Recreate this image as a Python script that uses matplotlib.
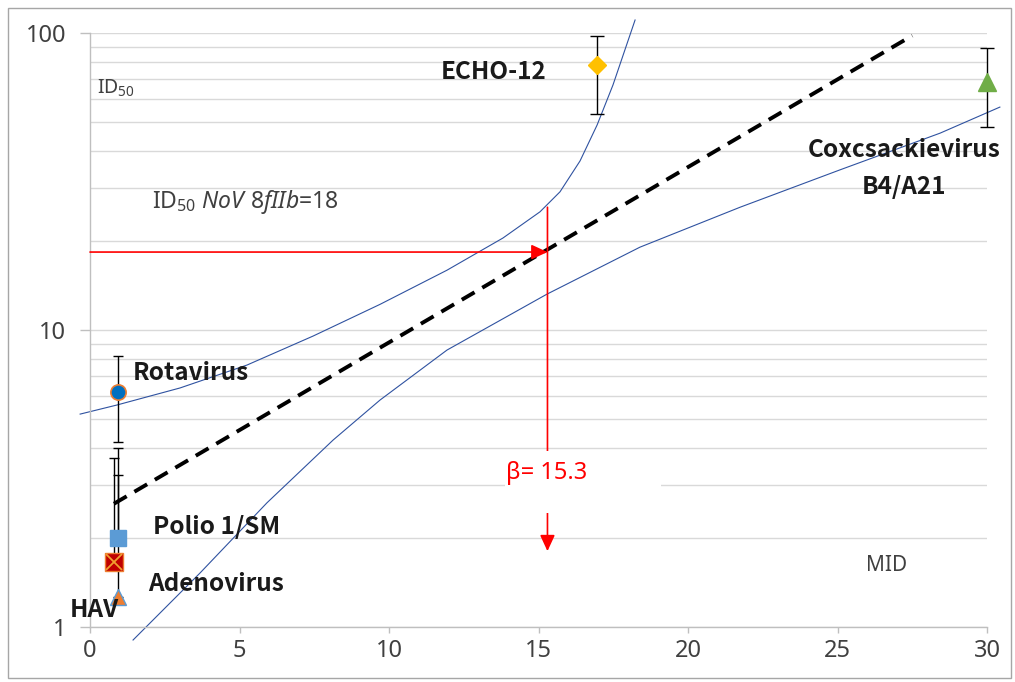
import matplotlib
matplotlib.use('Agg')
import matplotlib.pyplot as plt
from matplotlib.patches import Rectangle
from matplotlib.ticker import LogLocator, NullFormatter

# ---------------------------------------------------------------
# data
# ---------------------------------------------------------------
virus_names = ['Rotavirus', 'Polio 1/SM', 'Adenovirus', 'HAV', 'ECHO-12', 'Coxcsackievirus']
virus_beta  = [0.94, 0.94, 0.80, 0.94, 16.95, 30.0]
virus_id50  = [6.2, 2.0, 1.66, 1.26, 78.0, 68.6]
err_upper   = [8.2, 4.0, 3.7, 3.25, 97.7, 88.8]
err_lower   = [4.2, 2.0, 1.66, 1.26, 53.4, 48.1]

fit_x = [0.8, 27.5]
fit_y = [2.6, 98.0]

upper_x = [-0.33, 0.90, 3.01, 5.25, 7.46, 9.70, 11.94, 13.81, 15.05, 15.72, 16.39, 16.96, 17.49, 18.23]
upper_y = [5.21, 5.59, 6.38, 7.62, 9.54, 12.2, 15.9, 20.4, 25.0, 29.2, 37.1, 49.0, 66.8, 110.6]
lower_x = [1.44, 3.68, 5.92, 8.13, 9.70, 11.94, 14.15, 15.28, 18.39, 21.74, 25.08, 28.43, 30.43]
lower_y = [0.904, 1.52, 2.62, 4.26, 5.81, 8.56, 11.4, 13.2, 19.0, 25.9, 34.6, 46.0, 56.3]

nov_beta = 15.3
nov_id50 = 18.3
nov_top = 25.9      # where the upper band crosses beta
nov_bottom = 1.8

x_ticks = [0, 5, 10, 15, 20, 25, 30]
y_ticks = [1, 10, 100]
y_tick_labels = ['1', '10', '100']

# ---------------------------------------------------------------
# styles
# ---------------------------------------------------------------
plt.rcParams['font.family'] = ['Noto Sans', 'DejaVu Sans']
plt.rcParams['mathtext.fontset'] = 'custom'
plt.rcParams['mathtext.rm'] = 'Noto Sans'
plt.rcParams['mathtext.it'] = 'Noto Sans:italic'

GRID = '#D9D9D9'
AXIS = '#BFBFBF'
TXT = '#404040'
BAND = '#2F52A0'
RED = '#FF0000'
BOLD_FONT = ['Noto Sans CJK SC', 'DejaVu Sans']

marker_styles = [
    dict(marker='o', ms=11, mfc='#0070C0', mec='#ED7D31', mew=1.2),
    dict(marker='s', ms=12, mfc='#5B9BD5', mec='#5B9BD5', mew=1),
    dict(marker='s', ms=13, mfc='#C00000', mec='#ED7D31', mew=1),
    dict(marker='^', ms=11, mfc='#ED7D31', mec='#5B9BD5', mew=1),
    dict(marker='D', ms=9, mfc='#FFC000', mec='#FFC000', mew=1),
    dict(marker='^', ms=13.5, mfc='#70AD47', mec='#70AD47', mew=1),
]
cap_sizes = [3.6, 3.6, 3.6, 3.6, 5.3, 5.3]

# ---------------------------------------------------------------
# figure
# ---------------------------------------------------------------
fig = plt.figure(figsize=(10.15, 6.82), dpi=100)
fig.patches.append(Rectangle((8 / 1015, 4 / 682), 1003 / 1015, 670 / 682,
                             transform=fig.transFigure, fill=False,
                             edgecolor='#A6A6A6', linewidth=1))

ax = fig.add_axes([90 / 1015, 1 - 627 / 682, (987 - 90) / 1015, (627 - 33) / 682])
ax.set_yscale('log')
ax.set_xlim(0, 30)
ax.set_ylim(1, 100)

ax.set_xticks(x_ticks)
ax.set_yticks(y_ticks)
ax.set_yticklabels(y_tick_labels)
ax.yaxis.set_minor_locator(LogLocator(base=10, subs=range(2, 10)))
ax.yaxis.set_minor_formatter(NullFormatter())
ax.tick_params(axis='y', which='minor', length=0)
ax.tick_params(axis='y', which='major', length=7, width=1, color=AXIS,
               labelsize=17, labelcolor=TXT, pad=10)
ax.tick_params(axis='x', which='major', length=4.5, width=1, color=AXIS,
               labelsize=17, labelcolor=TXT, pad=4)
ax.grid(True, axis='y', which='both', color=GRID, linewidth=1)
ax.set_axisbelow(True)
for s in ['top', 'right']:
    ax.spines[s].set_visible(False)
for s in ['left', 'bottom']:
    ax.spines[s].set_color(AXIS)
    ax.spines[s].set_linewidth(1)

# confidence band and fitted line
ax.plot(upper_x, upper_y, color=BAND, lw=0.8, clip_on=False, zorder=2)
ax.plot(lower_x, lower_y, color=BAND, lw=0.8, clip_on=False, zorder=2)
fit, = ax.plot(fit_x, fit_y, color='black', lw=2.8, zorder=3)
fit.set_dashes((3.8, 2.3))

# error bars + markers
for i in range(len(virus_names)):
    eb = ax.errorbar([virus_beta[i]], [virus_id50[i]],
                     yerr=[[virus_id50[i] - err_lower[i]], [err_upper[i] - virus_id50[i]]],
                     fmt='none', ecolor='black', elinewidth=1, capsize=cap_sizes[i],
                     capthick=1, zorder=4)
    for art in list(eb.lines[1]) + list(eb.lines[2]):
        art.set_clip_on(False)
for i in range(len(virus_names)):
    ax.plot([virus_beta[i]], [virus_id50[i]], linestyle='none', zorder=5,
            clip_on=False, **marker_styles[i])
# the orange cross inside the adenovirus box
ax.plot([virus_beta[2]], [virus_id50[2]], linestyle='none', marker='x', ms=11,
        mec='#F0A030', mew=1.3, zorder=6)

# NoV arrows
ax.annotate('', xy=(nov_beta, nov_id50), xytext=(0, nov_id50),
            arrowprops=dict(arrowstyle='-|>,head_length=0.65,head_width=0.3',
                            color=RED, lw=1.2, mutation_scale=15,
                            shrinkA=0, shrinkB=0), zorder=6)
ax.annotate('', xy=(nov_beta, nov_bottom), xytext=(nov_beta, nov_top),
            arrowprops=dict(arrowstyle='-|>,head_length=0.65,head_width=0.3',
                            color=RED, lw=1.2, mutation_scale=15,
                            shrinkA=0, shrinkB=0), zorder=6)
ax.add_patch(Rectangle((13.88, 2.42), 5.22, 3.91 - 2.42, facecolor='white',
                       edgecolor='none', zorder=7))
ax.text(13.9, 3.15, 'β= 15.3', color=RED, fontsize=17,
        ha='left', va='baseline', zorder=8)

# labels
bold = dict(fontsize=17.5, fontweight='bold', family=BOLD_FONT, color='#1A1A1A',
            va='baseline', zorder=8)
ax.text(1.44, 6.79, virus_names[0], ha='left', **bold)
ax.text(2.1, 2.06, virus_names[1], ha='left', **bold)
ax.text(1.95, 1.325, virus_names[2], ha='left', **bold)
ax.text(-0.67, 1.083, virus_names[3], ha='left', **bold)
ax.text(11.73, 70.0, virus_names[4], ha='left', **bold)
ax.text(27.24, 38.2, virus_names[5], ha='center', **bold)
ax.text(27.24, 28.7, 'B4/A21', ha='center', **bold)

light = dict(color=TXT, ha='left', va='baseline')
ax.text(0.23, 62.3, r'ID$_\mathregular{50}$', fontsize=14, **light)
ax.text(2.07, 25.8, r'ID$_\mathregular{50}$ $\mathit{NoV\ 8fIIb}$=18', fontsize=16.5, **light)
ax.text(25.94, 1.544, 'MID', fontsize=15, **light)

fig.savefig('out.png', dpi=100)
